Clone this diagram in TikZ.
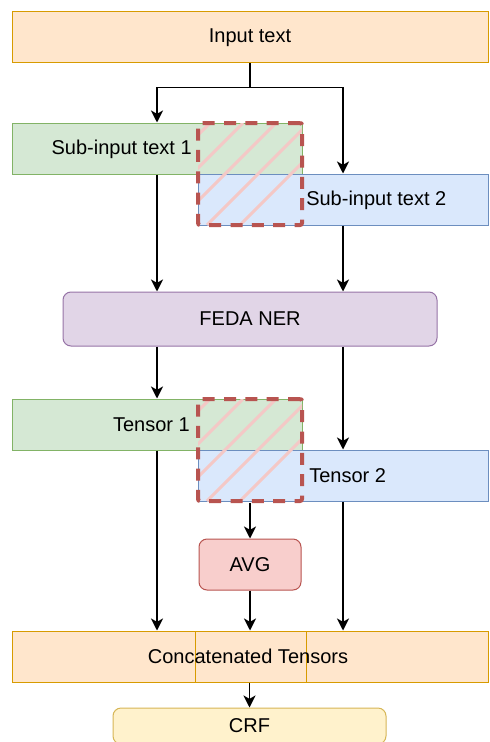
\documentclass[tikz,border=0pt]{standalone}
\usepackage{fontspec}
\setmainfont{Liberation Sans}
\usetikzlibrary{arrows.meta,positioning,fit}
\definecolor{orangefill}{HTML}{FFE6CC}
\definecolor{orangeline}{HTML}{D79B00}
\definecolor{greenfill}{HTML}{D5E8D4}
\definecolor{greenline}{HTML}{82B366}
\definecolor{bluefill}{HTML}{DAE8FC}
\definecolor{blueline}{HTML}{6C8EBF}
\definecolor{purplefill}{HTML}{E1D5E7}
\definecolor{purpleline}{HTML}{9673A6}
\definecolor{redfill}{HTML}{F8CECC}
\definecolor{redline}{HTML}{B85450}
\definecolor{yellowfill}{HTML}{FFF2CC}
\definecolor{yellowline}{HTML}{D6B656}
\definecolor{hatchpink}{HTML}{F4C8C6}

\begin{document}
\begin{tikzpicture}[
    x=0.75pt, y=-0.75pt,
    font=\fontsize{15}{18}\selectfont,
    box/.style={draw, inner sep=0pt, line width=0.75pt},
    inbox/.style={box, fill=orangefill, draw=orangeline},
    subone/.style={box, fill=greenfill, draw=greenline},
    subtwo/.style={box, fill=bluefill, draw=blueline},
    nerbox/.style={box, rounded corners=6pt, fill=purplefill, draw=purpleline},
    avgbox/.style={box, rounded corners=6pt, fill=redfill, draw=redline},
    crfbox/.style={box, rounded corners=6pt, fill=yellowfill, draw=yellowline},
    overlap/.style={draw=redline, line width=3pt, dash pattern=on 9pt off 7pt, rounded corners=1.5pt, inner sep=0pt},
    hatch/.style={hatchpink, line width=2.2pt},
    lbl/.style={inner sep=0pt},
    arr/.style={-{Stealth[length=9pt, width=9pt, inset=2.5pt]}, line width=1.4pt}
]
\useasboundingbox (0,0) rectangle (489,742);

% input and its two parts
\node[inbox, fit={(12,12) (488,63)}] (in) {};
\node[lbl] (intxt) at (in.center) {Input text};
\node[subone, fit={(12,123) (302,174)}] (sub1) {};
\node[subtwo, fit={(198,174) (488,225)}] (sub2) {};
\node[lbl, anchor=east] (sub1txt) at (192,149) {Sub-input text 1};
\node[lbl, anchor=west] (sub2txt) at (306,200) {Sub-input text 2};
\begin{scope}
  \clip (198,123) rectangle (302,225);
  \foreach \k in {-24,9,...,240}
    \draw[hatch] (\k,225) -- ++(102,-102);
\end{scope}
\node[overlap, fit={(198,123) (302,225)}] (ovl1) {};

\node[nerbox, fit={(63,292) (437,346)}] (ner) {};
\node[lbl] (nertxt) at (ner.center) {FEDA NER};

% tensors
\node[subone, fit={(12,399) (302,450)}] (t1) {};
\node[subtwo, fit={(198,450) (488,501)}] (t2) {};
\node[lbl, anchor=east] (t1txt) at (190,425) {Tensor 1};
\node[lbl, anchor=west] (t2txt) at (309,476) {Tensor 2};
\begin{scope}
  \clip (198,399) rectangle (302,501);
  \foreach \k in {-24,9,...,240}
    \draw[hatch] (\k,501) -- ++(102,-102);
\end{scope}
\node[overlap, fit={(198,399) (302,501)}] (ovl2) {};

\node[avgbox, fit={(199,539) (301,590)}] (avg) {};
\node[lbl] (avgtxt) at (avg.center) {AVG};

\node[inbox, fit={(12,631) (488,682)}] (cat) {};
\node[box, draw=orangeline, fit={(195,631) (306,682)}] (catmid) {};
\node[lbl] (cattxt) at ([xshift=-1.5pt]cat.center) {Concatenated Tensors};
\node[crfbox, fit={(113,708) (386,744)}] (crf) {};
\node[lbl] (crftxt) at (crf.center) {CRF};

\draw[arr] (in.south) -- ++(0,24) -| (sub1.north);
\draw[arr] (in.south) -- ++(0,24) -| (sub2.north);
\draw[arr] (sub1.south) -- (sub1.south |- ner.north);
\draw[arr] (sub2.south) -- (sub2.south |- ner.north);
\draw[arr] (ner.south -| t1.north) -- (t1.north);
\draw[arr] (ner.south -| t2.north) -- (t2.north);
\draw[arr] (ovl2.south) -- (avg.north);
\draw[arr] (t1.south) -- (t1.south |- cat.north);
\draw[arr] (avg.south) -- (avg.south |- cat.north);
\draw[arr] (t2.south) -- (t2.south |- cat.north);
\draw[arr] (cat.south -| crf.north) -- (crf.north);
\end{tikzpicture}
\end{document}
